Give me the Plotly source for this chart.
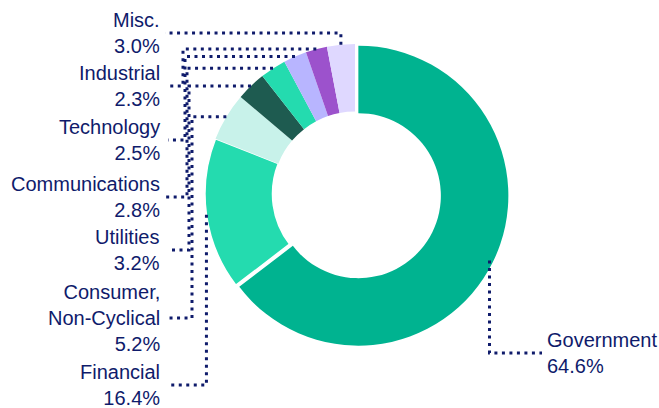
import math
import plotly.graph_objects as go

# sector weights, clockwise from 12 o'clock
sectors = ['Government', 'Financial', 'Consumer,<br>Non-Cyclical', 'Utilities',
           'Communications', 'Technology', 'Industrial', 'Misc.']
weights = [64.6, 16.4, 5.2, 3.2, 2.8, 2.5, 2.3, 3.0]

slice_colors = ['#00B390', '#24DBAF', '#C8F2EA', '#1E5B50',
                '#24DBAF', '#B8B5FF', '#9C52CC', '#DFD8FF']

W, H = 659, 408
NAVY = '#0F1B6B'

# pie geometry in pixels
cx, cy, r = 355, 194, 150
pull = 0.025
half = r * (1 + pull)

# leader routing (pixels): elbow x, horizontal y near label, end x
elbow_x = [None, None, 192, 189, 187, 185, 183, None]
line_y = [353, 385, 318, 250, 197, 140, 86, 33]
end_x = [542, 168, 166, 170, 165, 168, 170, 165]


def px(x):
    return x / W


def py(y):
    return 1 - y / H


fig = go.Figure()

fig.add_trace(go.Pie(
    labels=sectors,
    values=weights,
    sort=False,
    direction='clockwise',
    rotation=0,
    hole=0.55,
    pull=[pull, 0, 0, 0, 0, 0, 0, 0],
    marker=dict(colors=slice_colors,
                line=dict(color='white', width=[0, 1.5, 0, 0, 0, 0, 0, 0])),
    textinfo='none',
    hoverinfo='label+percent',
    showlegend=False,
    domain=dict(x=[px(cx - half), px(cx + half)],
                y=[py(cy + half), py(cy - half)]),
))

total = sum(weights)
cum = 0
shapes = []
annotations = []
for i, (name, w) in enumerate(zip(sectors, weights)):
    mid = (cum + w / 2) / total * 2 * math.pi
    cum += w
    sx = cx + r * math.sin(mid)
    sy = cy - r * math.cos(mid)
    pts = [(sx, sy)]
    if elbow_x[i] is not None:
        pts.append((elbow_x[i], sy))
        pts.append((elbow_x[i], line_y[i]))
    else:
        pts.append((sx, line_y[i]))
    pts.append((end_x[i], line_y[i]))
    path = 'M ' + ' L '.join(f'{px(x):.5f},{py(y):.5f}' for x, y in pts)
    shapes.append(dict(type='path', path=path, xref='paper', yref='paper',
                       line=dict(color=NAVY, width=3, dash='3px,4.5px')))

    text = f'{name}<br>{w:.1f}%'
    if end_x[i] > cx:
        annotations.append(dict(x=px(end_x[i] + 3), y=py(line_y[i]), xref='paper', yref='paper',
                                text=text, showarrow=False, xanchor='left', yanchor='middle',
                                align='left'))
    else:
        annotations.append(dict(x=px(162), y=py(line_y[i]), xref='paper', yref='paper',
                                text=text, showarrow=False, xanchor='right', yanchor='middle',
                                align='right'))

fig.update_layout(
    width=W,
    height=H,
    margin=dict(l=0, r=0, t=0, b=0),
    paper_bgcolor='white',
    plot_bgcolor='white',
    font=dict(family='Arial, Liberation Sans, sans-serif', size=20, color=NAVY),
    shapes=shapes,
    annotations=annotations,
)

# drop the default page margin so the figure sits at the window's corner
fig.write_html('out.html', config={'displayModeBar': False},
               post_script="document.body.style.margin='0';")
